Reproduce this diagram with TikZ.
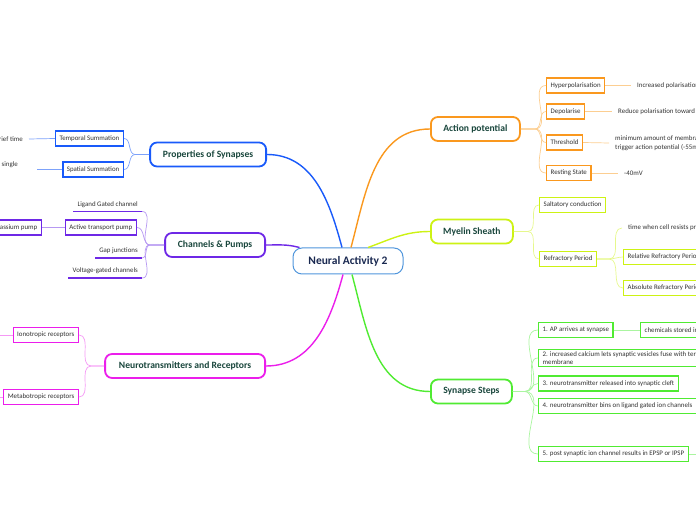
\documentclass[tikz,border=0pt]{standalone}
\usepackage{fontspec}
\setmainfont{Carlito}
\usepackage{tikz}
\usetikzlibrary{positioning,calc}
\definecolor{mmcore}{RGB}{80,150,220}
\definecolor{mmnavy}{RGB}{25,40,80}
\definecolor{mmtitle}{RGB}{25,70,60}
\definecolor{mmtext}{RGB}{50,50,50}
\definecolor{mmorange}{RGB}{250,152,30}
\definecolor{mmorangelt}{RGB}{252,206,145}
\definecolor{mmlime}{RGB}{205,242,20}
\definecolor{mmlimelt}{RGB}{230,248,140}
\definecolor{mmgreen}{RGB}{80,235,50}
\definecolor{mmgreenlt}{RGB}{170,245,160}
\definecolor{mmblue}{RGB}{25,90,250}
\definecolor{mmbluelt}{RGB}{125,162,250}
\definecolor{mmpurple}{RGB}{110,40,230}
\definecolor{mmpurplelt}{RGB}{182,152,242}
\definecolor{mmmagenta}{RGB}{235,30,235}
\definecolor{mmmagentalt}{RGB}{245,152,245}

\begin{document}
\begin{tikzpicture}[
			x=1pt, y=1pt,
			core/.style={rectangle, draw=mmcore, line width=1pt, rounded corners=9pt, fill=white, minimum width=110pt, minimum height=26pt, font=\fontsize{11.5}{13}\selectfont\bfseries, text=mmnavy},
			topic/.style={rectangle, draw=#1, line width=1.8pt, rounded corners=7pt, fill=white, minimum height=24pt, inner xsep=8pt, font=\fontsize{9.6}{11}\selectfont\bfseries, text=mmtitle},
			sub/.style={rectangle, draw=#1, line width=1.3pt, fill=white, minimum height=15pt, inner xsep=4pt, inner ysep=2pt, font=\fontsize{6.9}{8.2}\selectfont, text=mmtext, align=left},
			plain/.style={inner xsep=4pt, inner ysep=2pt, minimum height=14pt, font=\fontsize{6.9}{8.2}\selectfont, text=mmtext},
			leaf/.style={inner xsep=6pt, inner ysep=2pt, font=\fontsize{6.9}{8.6}\selectfont, text=mmtext, align=left},
			branch/.style={line width=1.4pt, draw=#1},
			fan/.style={line width=0.7pt, draw=#1}
		]
			\useasboundingbox (0,0) rectangle (696,520);
			\clip (0,0) rectangle (696,520);
			
			\node[core] (core) at (348,259) {Neural Activity 2};
			\node[topic=mmorange, minimum width=89pt, anchor=west] (ap) at (430,391) {Action potential};
			\node[topic=mmlime, minimum width=82pt, anchor=west] (myel) at (430,288.5) {Myelin Sheath};
			\node[topic=mmgreen, minimum width=81pt, anchor=west] (syn) at (430,128.5) {Synapse Steps};
			\node[topic=mmblue, minimum width=116pt, anchor=east] (props) at (267,365.5) {Properties of Synapses};
			\node[topic=mmpurple, minimum width=100pt, anchor=east] (chan) at (266,275) {Channels \& Pumps};
			\node[topic=mmmagenta, minimum width=160pt, anchor=east] (neuro) at (266,154) {Neurotransmitters and Receptors};
			
			\draw[branch=mmblue] (props.east) to[out=0, in=105] ([xshift=-6pt]core.north);
			\draw[branch=mmorange] ([xshift=3pt]core.north) to[out=75, in=180] (ap.west);
			\draw[branch=mmlime] ([xshift=20pt]core.north) to[out=20, in=180] (myel.west);
			\draw[branch=mmpurple] (chan.east) to[out=0, in=165] ([xshift=7pt]core.north west);
			\draw[branch=mmmagenta] ([xshift=-5pt]core.south) to[out=-105, in=0] (neuro.east);
			\draw[branch=mmgreen] ([xshift=4pt]core.south) to[out=-75, in=180] (syn.west);
			
			\node[sub=mmorange, anchor=west] (hyp) at (546,434.5) {Hyperpolarisation};
			\node[sub=mmorange, anchor=west] (depol) at (546,408.5) {Depolarise};
			\node[sub=mmorange, anchor=west] (thres) at (546,377.5) {Threshold};
			\node[sub=mmorange, anchor=west] (rest) at (546,347) {Resting State};
			\node[leaf, anchor=west] (inctxt) at (631,434.5) {Increased polarisation};
			\node[leaf, anchor=west] (redtxt) at (612,408.5) {Reduce polarisation toward 0};
			\node[leaf, anchor=west] (thrtxt) at (609,377) {minimum amount of membrane depolarisation to\\trigger action potential (-55mV)};
			\node[leaf, anchor=west] (resttxt) at (618,347) {-40mV};
			
			\draw[fan=mmorangelt] (ap.east) -- ++(14,0) to[out=0, in=180] (hyp.west);
			\draw[fan=mmorangelt] (ap.east) -- ++(14,0) to[out=0, in=180] (depol.west);
			\draw[fan=mmorangelt] (ap.east) -- ++(14,0) to[out=0, in=180] (thres.west);
			\draw[fan=mmorangelt] (ap.east) -- ++(14,0) to[out=0, in=180] (rest.west);
			\draw[fan=mmorangelt] (hyp.east) -- (inctxt.west);
			\draw[fan=mmorangelt] (depol.east) -- (redtxt.west);
			\draw[fan=mmorangelt] (thres.east) -- (thrtxt.west);
			\draw[fan=mmorangelt] (rest.east) -- (resttxt.west);
			
			\node[sub=mmlime, anchor=west] (salt) at (539,315) {Saltatory conduction};
			\node[sub=mmlime, anchor=west] (refr) at (539,261) {Refractory Period};
			\node[leaf, anchor=west] (timetxt) at (622,292) {time when cell resists producing another AP};
			\node[sub=mmlime, anchor=west] (relref) at (623,263) {Relative Refractory Period};
			\node[sub=mmlime, anchor=west] (absref) at (623,232) {Absolute Refractory Period};
			
			\draw[fan=mmlimelt] (myel.east) -- ++(14,0) to[out=0, in=180] (salt.west);
			\draw[fan=mmlimelt] (myel.east) -- ++(14,0) to[out=0, in=180] (refr.west);
			\draw[fan=mmlimelt] (refr.east) -- ++(12,0) to[out=0, in=180] (timetxt.west);
			\draw[fan=mmlimelt] (refr.east) -- ++(12,0) to[out=0, in=180] (relref.west);
			\draw[fan=mmlimelt] (refr.east) -- ++(12,0) to[out=0, in=180] (absref.west);
			
			\node[sub=mmgreen, anchor=west] (s1) at (538,190) {1. AP arrives at synapse};
			\node[sub=mmgreen, anchor=west] (chem) at (640,190) {chemicals stored in vesicles};
			\node[sub=mmgreen, anchor=west] (s2) at (538,162) {2. increased calcium lets synaptic vesicles fuse with terminal\\membrane};
			\node[sub=mmgreen, anchor=west] (s3) at (538,136.5) {3. neurotransmitter released into synaptic cleft};
			\node[sub=mmgreen, anchor=west] (s4) at (538,114) {4. neurotransmitter bins on ligand gated ion channels};
			\node[sub=mmgreen, anchor=west] (s5) at (538,66) {5. post synaptic ion channel results in EPSP or IPSP};
			\coordinate (s5end) at (705,66);
			
			\draw[fan=mmgreenlt] (syn.east) -- ++(12,0) to[out=0, in=180] (s1.west);
			\draw[fan=mmgreenlt] (syn.east) -- ++(12,0) to[out=0, in=180] (s2.west);
			\draw[fan=mmgreenlt] (syn.east) -- ++(12,0) to[out=0, in=180] (s3.west);
			\draw[fan=mmgreenlt] (syn.east) -- ++(12,0) to[out=0, in=180] (s4.west);
			\draw[fan=mmgreenlt] (syn.east) -- ++(12,0) to[out=0, in=180] (s5.west);
			\draw[fan=mmgreenlt] (s1.east) -- (chem.west);
			\draw[fan=mmgreenlt] (s5.east) -- (s5end);
			
			\node[sub=mmblue, anchor=east] (temp) at (124,381.5) {Temporal Summation};
			\node[sub=mmblue, anchor=east] (spat) at (124,350.5) {Spatial Summation};
			\node[leaf, anchor=east] (temptxt) at (29,381) {over a brief time};
			\node[leaf, anchor=east] (spattxt) at (24,355) {a single};
			\coordinate (spatend) at (37,350.5);
			
			\draw[fan=mmbluelt] (props.west) -- ++(-14,0) to[out=180, in=0] (temp.east);
			\draw[fan=mmbluelt] (props.west) -- ++(-14,0) to[out=180, in=0] (spat.east);
			\draw[fan=mmbluelt] (temp.west) -- (temptxt.east);
			\draw[fan=mmbluelt] (spat.west) -- (spatend);
			
			\node[plain, anchor=south east] (lig) at (142,308.5) {Ligand Gated channel};
			\node[sub=mmpurple, anchor=east] (act) at (137,292.5) {Active transport pump};
			\node[sub=mmpurple, anchor=east] (sod) at (42,292.5) {Sodium potassium pump};
			\node[plain, anchor=south east] (gap) at (142,262) {Gap junctions};
			\node[plain, anchor=south east] (volt) at (142,242) {Voltage-gated channels};
			\draw[mmpurple, line width=1.3pt] (lig.south west) -- (lig.south east);
			\draw[mmpurple, line width=1.3pt] (gap.south west) -- (gap.south east);
			\draw[mmpurple, line width=1.3pt] (volt.south west) -- (volt.south east);
			
			\draw[fan=mmpurplelt] (chan.west) -- ++(-14,0) to[out=180, in=0] (lig.south east);
			\draw[fan=mmpurplelt] (chan.west) -- ++(-14,0) to[out=180, in=0] (act.east);
			\draw[fan=mmpurplelt] (chan.west) -- ++(-14,0) to[out=180, in=0] (gap.south east);
			\draw[fan=mmpurplelt] (chan.west) -- ++(-14,0) to[out=180, in=0] (volt.south east);
			\draw[fan=mmpurplelt] (act.west) -- (sod.east);
			
			\node[sub=mmmagenta, anchor=east] (iono) at (79,185) {Ionotropic receptors};
			\node[sub=mmmagenta, anchor=east] (metab) at (79,123) {Metabotropic receptors};
			\coordinate (ionoend) at (-5,185);
			\coordinate (metabend) at (-5,123);
			
			\draw[fan=mmmagentalt] (neuro.west) -- ++(-13,0) to[out=180, in=0] (iono.east);
			\draw[fan=mmmagentalt] (neuro.west) -- ++(-13,0) to[out=180, in=0] (metab.east);
			\draw[fan=mmmagentalt] (iono.west) -- (ionoend);
			\draw[fan=mmmagentalt] (metab.west) -- (metabend);
		\end{tikzpicture}
\end{document}
